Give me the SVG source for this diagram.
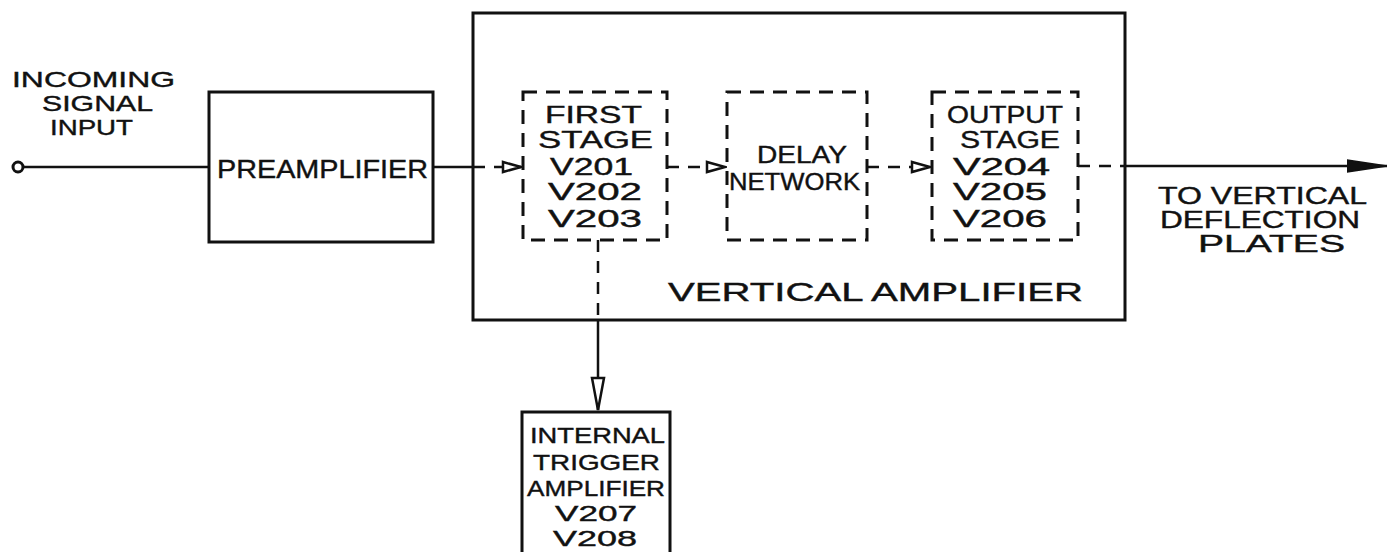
<svg xmlns="http://www.w3.org/2000/svg" width="1387" height="552" viewBox="0 0 1387 552">
<defs>
<style>
.box{fill:#fff;stroke:#111;stroke-width:3}
.dbox{fill:none;stroke:#111;stroke-width:3;stroke-dasharray:14 9}
.ln{fill:none;stroke:#111;stroke-width:2.5}
.dl{fill:none;stroke:#111;stroke-width:2.5;stroke-dasharray:12 9}
text{font-family:"Liberation Sans",Arial,sans-serif;fill:#111;font-size:23px;stroke:#111;stroke-width:0.4}
.lbl{font-size:22px}
.big{font-size:25px}
.huge{font-size:26px}
</style>
<marker id="open" markerUnits="userSpaceOnUse" markerWidth="22" markerHeight="14" refX="20" refY="7" orient="auto">
<path d="M2,2 L20,7 L2,12 Z" fill="#fff" stroke="#111" stroke-width="2.5"/>
</marker>
<marker id="openlong" markerUnits="userSpaceOnUse" markerWidth="36" markerHeight="16" refX="34" refY="8" orient="auto">
<path d="M2,2 L34,8 L2,14 Z" fill="#fff" stroke="#111" stroke-width="2.5"/>
</marker>
<marker id="fill" markerUnits="userSpaceOnUse" markerWidth="42" markerHeight="18" refX="40" refY="9" orient="auto">
<path d="M0,3 L40,9 L0,15 Z" fill="#111" stroke="#111" stroke-width="1.5"/>
</marker>
</defs>

<g id="connectors">
<circle cx="18" cy="167" r="5" fill="#fff" stroke="#111" stroke-width="3"/>
<line class="ln" x1="23" y1="167" x2="209" y2="167"/>
<line class="ln" x1="433" y1="167" x2="473" y2="167"/>
<line class="dl" x1="473" y1="167" x2="521" y2="167" marker-end="url(#open)"/>
<line class="dl" x1="667" y1="167" x2="725" y2="167" marker-end="url(#open)"/>
<line class="dl" x1="867" y1="167" x2="930" y2="167" marker-end="url(#open)"/>
<line class="dl" x1="1078" y1="166" x2="1125" y2="166"/>
<line class="ln" x1="1125" y1="166" x2="1387" y2="166" marker-end="url(#fill)"/>
<line class="dl" x1="598" y1="240" x2="598" y2="320"/>
<line class="ln" x1="598" y1="320" x2="598" y2="410" marker-end="url(#openlong)"/>
</g>

<g id="input-label">
<text class="lbl" x="12" y="87" textLength="163" lengthAdjust="spacingAndGlyphs">INCOMING</text>
<text class="lbl" x="42" y="111" textLength="111" lengthAdjust="spacingAndGlyphs">SIGNAL</text>
<text class="lbl" x="50" y="135" textLength="83" lengthAdjust="spacingAndGlyphs">INPUT</text>
</g>

<g id="preamplifier">
<rect class="box" x="209" y="92" width="224" height="150"/>
<text class="big" x="217" y="178" textLength="211" lengthAdjust="spacingAndGlyphs">PREAMPLIFIER</text>
</g>

<g id="vertical-amplifier">
<rect class="box" x="473" y="13" width="652" height="307" style="fill:none"/>
<text class="huge" x="668" y="301" textLength="415" lengthAdjust="spacingAndGlyphs">VERTICAL AMPLIFIER</text>
</g>

<g id="first-stage">
<rect class="dbox" x="523" y="92" width="144" height="148"/>
<text x="545" y="123" textLength="97" lengthAdjust="spacingAndGlyphs">FIRST</text>
<text x="538" y="148" textLength="115" lengthAdjust="spacingAndGlyphs">STAGE</text>
<text x="550" y="175" textLength="83" lengthAdjust="spacingAndGlyphs">V201</text>
<text x="548" y="200" textLength="94" lengthAdjust="spacingAndGlyphs">V202</text>
<text x="548" y="227" textLength="94" lengthAdjust="spacingAndGlyphs">V203</text>
</g>

<g id="delay-network">
<rect class="dbox" x="727" y="92" width="140" height="148"/>
<text x="757" y="163" textLength="90" lengthAdjust="spacingAndGlyphs">DELAY</text>
<text x="729" y="190" textLength="131" lengthAdjust="spacingAndGlyphs">NETWORK</text>
</g>

<g id="output-stage">
<rect class="dbox" x="932" y="92" width="146" height="148"/>
<text x="947" y="123" textLength="116" lengthAdjust="spacingAndGlyphs">OUTPUT</text>
<text x="960" y="148" textLength="100" lengthAdjust="spacingAndGlyphs">STAGE</text>
<text x="953" y="175" textLength="97" lengthAdjust="spacingAndGlyphs">V204</text>
<text x="953" y="200" textLength="94" lengthAdjust="spacingAndGlyphs">V205</text>
<text x="953" y="227" textLength="94" lengthAdjust="spacingAndGlyphs">V206</text>
</g>

<g id="output-label">
<text x="1158" y="204" font-size="23" textLength="209" lengthAdjust="spacingAndGlyphs">TO VERTICAL</text>
<text x="1160" y="228" font-size="23" textLength="200" lengthAdjust="spacingAndGlyphs">DEFLECTION</text>
<text x="1198" y="252" font-size="23" textLength="147" lengthAdjust="spacingAndGlyphs">PLATES</text>
</g>

<g id="internal-trigger-amplifier">
<rect class="box" x="522" y="412" width="148" height="150"/>
<text class="lbl" x="530" y="443" textLength="135" lengthAdjust="spacingAndGlyphs">INTERNAL</text>
<text class="lbl" x="533" y="470" textLength="127" lengthAdjust="spacingAndGlyphs">TRIGGER</text>
<text class="lbl" x="527" y="496" textLength="138" lengthAdjust="spacingAndGlyphs">AMPLIFIER</text>
<text class="lbl" x="555" y="521" textLength="82" lengthAdjust="spacingAndGlyphs">V207</text>
<text class="lbl" x="553" y="546" textLength="84" lengthAdjust="spacingAndGlyphs">V208</text>
</g>
</svg>
